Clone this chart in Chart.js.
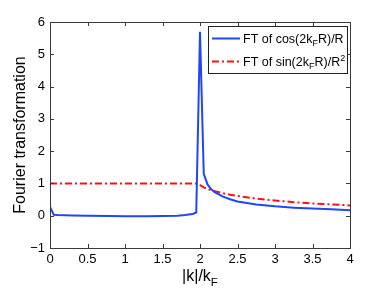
<!DOCTYPE html>
<html><head><meta charset="utf-8">
<script src="https://cdn.jsdelivr.net/npm/chart.js@4"></script>
<style>html,body{margin:0;padding:0;background:#fff}#w{width:388px;height:291px}</style>
</head><body><div id="w"><canvas id="c" width="388" height="291"></canvas></div>
<script>
const kValues   = [0, 0.05, 0.1, 0.3, 0.5, 0.8, 1.0, 1.3, 1.5, 1.7, 1.8, 1.9, 1.95, 2.0, 2.05, 2.1, 2.15, 2.2, 2.3, 2.4, 2.5, 2.75, 3.0, 3.25, 3.5, 3.75, 4.0];
const cosSeries = [0.27, 0.03, 0.02, 0.01, 0.0, -0.01, -0.02, -0.02, -0.01, 0.0, 0.02, 0.05, 0.1, 5.7, 1.3, 0.97, 0.82, 0.72, 0.6, 0.51, 0.44, 0.35, 0.29, 0.25, 0.22, 0.2, 0.17];
const sinSeries = [1, 1, 1, 1, 1, 1, 1, 1, 1, 1, 1, 1, 1, 0.95, 0.88, 0.83, 0.79, 0.76, 0.7, 0.65, 0.61, 0.53, 0.47, 0.42, 0.38, 0.35, 0.32];
const xTicks = [0, 0.5, 1, 1.5, 2, 2.5, 3, 3.5, 4];
const yTicks = [-1, 0, 1, 2, 3, 4, 5, 6];
const seriesNames = ['FT of cos(2k_FR)/R', 'FT of sin(2k_FR)/R^2'];

const BLUE = '#2146f6', RED = '#ff1010';
const FONT = '"Liberation Sans", Arial, Helvetica, sans-serif';

function pts(ys){ return kValues.map((k,i)=>({x:k,y:ys[i]})); }

// draw text with _X subscript and ^X superscript markers
function richText(ctx, str, x, y, size){
  let cx = x; let i = 0;
  while (i < str.length){
    const ch = str[i];
    if ((ch === '_' || ch === '^') && i+1 < str.length){
      const s = str[i+1];
      ctx.font = (size*0.72) + 'px ' + FONT;
      const dy = ch === '_' ? size*0.3 : -size*0.38;
      ctx.fillText(s, cx, y + dy);
      cx += ctx.measureText(s).width;
      i += 2; continue;
    }
    ctx.font = size + 'px ' + FONT;
    ctx.fillText(ch, cx, y);
    cx += ctx.measureText(ch).width;
    i++;
  }
  return cx - x;
}
function richWidth(ctx, str, size){
  let w=0,i=0;
  while(i<str.length){
    const ch=str[i];
    if((ch==='_'||ch==='^')&&i+1<str.length){ctx.font=(size*0.72)+'px '+FONT;w+=ctx.measureText(str[i+1]).width;i+=2;continue;}
    ctx.font=size+'px '+FONT;w+=ctx.measureText(ch).width;i++;
  }
  return w;
}

const decor = {
  id: 'decor',
  afterDraw(chart){
    const ctx = chart.ctx, a = chart.chartArea;
    const xs = chart.scales.x, ys = chart.scales.y;
    ctx.save();
    ctx.strokeStyle = '#3a3a3a'; ctx.lineWidth = 1;
    ctx.strokeRect(Math.round(a.left)+0.5, Math.round(a.top)+0.5, Math.round(a.right-a.left), Math.round(a.bottom-a.top));
    const tl = 4;
    ctx.beginPath();
    xTicks.forEach(v=>{
      const px = Math.round(xs.getPixelForValue(v))+0.5;
      ctx.moveTo(px, a.bottom); ctx.lineTo(px, a.bottom-tl);
      ctx.moveTo(px, a.top); ctx.lineTo(px, a.top+tl);
    });
    yTicks.forEach(v=>{
      const py = Math.round(ys.getPixelForValue(v))+0.5;
      ctx.moveTo(a.left, py); ctx.lineTo(a.left+tl, py);
      ctx.moveTo(a.right, py); ctx.lineTo(a.right-tl, py);
    });
    ctx.stroke();

    // axis titles
    ctx.fillStyle = '#000';
    ctx.textBaseline = 'alphabetic';
    const xt = '|k|/k_F';
    const w = richWidth(ctx, xt, 16);
    richText(ctx, xt, (a.left+a.right)/2 - w/2, 281, 16);
    ctx.save();
    ctx.translate(25, (a.top+a.bottom)/2);
    ctx.rotate(-Math.PI/2);
    ctx.font = '16px ' + FONT; ctx.textAlign = 'center';
    ctx.fillText('Fourier transformation', 0, 0);
    ctx.restore();

    // legend
    const lx = 208.5, ly = 26.5, lw = 139, lh = 47;
    ctx.fillStyle = '#fff'; ctx.fillRect(lx, ly, lw, lh);
    ctx.strokeStyle = '#222'; ctx.lineWidth = 1; ctx.strokeRect(lx, ly, lw, lh);
    const rows = [{c:BLUE, d:[]},{c:RED, d:[7,3,2,3]}];
    rows.forEach((r,i)=>{
      const yy = ly + 12 + i*23;
      ctx.strokeStyle = r.c; ctx.lineWidth = 2; ctx.setLineDash(r.d);
      ctx.beginPath(); ctx.moveTo(212, yy); ctx.lineTo(240, yy); ctx.stroke();
      ctx.setLineDash([]);
      ctx.fillStyle = '#000'; ctx.textAlign = 'left';
      richText(ctx, seriesNames[i], 243, yy + 4, 12.5);
    });
    ctx.restore();
  }
};

new Chart(document.getElementById('c'), {
  type: 'line',
  data: { datasets: [
    { label: seriesNames[0], data: pts(cosSeries), borderColor: BLUE, borderWidth: 2, pointRadius: 0, tension: 0, fill: false },
    { label: seriesNames[1], data: pts(sinSeries), borderColor: RED, borderWidth: 2, borderDash: [7,3,2,3], pointRadius: 0, tension: 0, fill: false }
  ]},
  options: {
    responsive: false, animation: false,
    layout: { padding: { left: 0, right: 38, top: 22, bottom: 0 } },
    plugins: { legend: { display: false }, tooltip: { enabled: false } },
    scales: {
      x: { type: 'linear', min: 0, max: 4,
        afterFit(s){ s.height = 43; },
        afterBuildTicks(s){ s.ticks = xTicks.map(v=>({value:v})); },
        grid: { display: false, drawTicks: false }, border: { display: false },
        ticks: { color: '#000', font: { family: FONT, size: 13 }, padding: 4, maxRotation: 0, autoSkip: false,
          callback: v => String(v) } },
      y: { type: 'linear', min: -1, max: 6,
        afterFit(s){ s.width = 50; },
        afterBuildTicks(s){ s.ticks = yTicks.map(v=>({value:v})); },
        grid: { display: false, drawTicks: false }, border: { display: false },
        ticks: { color: '#000', font: { family: FONT, size: 13 }, padding: 5, autoSkip: false,
          callback: v => v < 0 ? '\u2212' + Math.abs(v) : String(v) } }
    }
  },
  plugins: [decor]
});
</script></body></html>
